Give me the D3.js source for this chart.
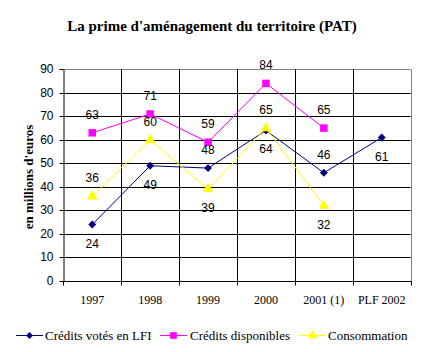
<!DOCTYPE html>
<html><head><meta charset="utf-8">
<script src="https://cdn.jsdelivr.net/npm/d3@7"></script>
<style>
body{margin:0;background:#fff}svg{display:block}
.serif{font-family:"Liberation Serif","Times New Roman","DejaVu Serif",serif}
.sans{font-family:"Liberation Sans",Arial,"DejaVu Sans",sans-serif}
</style>
</head><body>
<script>
const categories = ["1997","1998","1999","2000","2001 (1)","PLF 2002"];
const lfi = [24,49,48,64,46,61];
const disponibles = [63,71,59,84,65,null];
const consommation = [36,60,39,65,32,null];
const yTicks = [0,10,20,30,40,50,60,70,80,90];
// label placement: 1 = above, -1 = below
const lfiPos = [-1,-1,1,-1,1,-1];
const dispPos = [1,1,1,1,1,1];
const consPos = [1,1,-1,1,-1,1];

const W=425,H=352;
const svg=d3.select("body").append("svg").attr("width",W).attr("height",H);
const m={l:63.3,r:410.7,t:69.3,b:281};
const x=d3.scaleBand().domain(categories).range([m.l,m.r]).padding(0);
const y=d3.scaleLinear().domain([0,90]).range([m.b,m.t]);

svg.append("text").attr("class","serif").attr("x",212).attr("y",31).attr("text-anchor","middle")
 .attr("font-weight","bold").attr("font-size",15)
 .text("La prime d'aménagement du territoire (PAT)");

svg.append("g").selectAll("line").data(yTicks.filter(d=>d>0)).join("line")
 .attr("x1",m.l).attr("x2",m.r).attr("y1",d=>Math.round(y(d))+0.5).attr("y2",d=>Math.round(y(d))+0.5)
 .attr("stroke",d=>d===90?"#808080":"#000").attr("stroke-width",1);
const bounds=categories.slice(1).map(c=>x(c));
svg.append("g").selectAll("line").data(bounds).join("line")
 .attr("x1",d=>Math.round(d)+0.5).attr("x2",d=>Math.round(d)+0.5).attr("y1",m.t).attr("y2",m.b)
 .attr("stroke","#000");
svg.append("line").attr("x1",Math.round(m.r)+0.5).attr("x2",Math.round(m.r)+0.5).attr("y1",Math.round(m.t)+0.5).attr("y2",m.b).attr("stroke","#808080");

const yAxis=d3.axisLeft(y).tickValues(yTicks).tickSize(4).tickSizeOuter(0);
const gy=svg.append("g").attr("transform",`translate(${Math.round(m.l)+0.5},0)`).call(yAxis);
gy.selectAll("text").attr("class","sans").attr("font-family",null).attr("font-size",12).attr("fill","#000").attr("dx",-3);
gy.selectAll("line,path").attr("stroke","#000");
gy.selectAll(".tick").attr("transform",d=>`translate(0,${Math.round(y(d))+0.5})`);
gy.attr("font-family",null);

const gx=svg.append("g").attr("transform",`translate(0,${Math.round(m.b)+0.5})`);
gx.append("line").attr("x1",m.l).attr("x2",m.r+1).attr("stroke","#000");
gx.selectAll("line.t").data([m.l].concat(bounds).concat([m.r])).join("line").attr("class","t")
 .attr("x1",d=>Math.round(d)+0.5).attr("x2",d=>Math.round(d)+0.5).attr("y1",0).attr("y2",4).attr("stroke","#000");
gx.selectAll("text").data(categories).join("text").attr("class","serif")
 .attr("x",d=>x(d)+x.bandwidth()/2).attr("y",22).attr("text-anchor","middle")
 .attr("font-size",12).text(d=>d);

svg.append("text").attr("class","serif").attr("transform","translate(33,177) rotate(-90)").attr("text-anchor","middle")
 .attr("font-weight","bold").attr("font-size",13)
 .text("en millions d'euros");

const diamond={draw(ctx,size){const r=Math.sqrt(size)/1.6;ctx.moveTo(0,-r);ctx.lineTo(r,0);ctx.lineTo(0,r);ctx.lineTo(-r,0);ctx.closePath();}};
const cx=(i)=>x(categories[i])+x.bandwidth()/2;
const series=[
 {name:"Crédits votés en LFI",vals:lfi,pos:lfiPos,color:"#000080",sym:diamond,size:40},
 {name:"Crédits disponibles",vals:disponibles,pos:dispPos,color:"#FF00FF",sym:d3.symbolSquare,size:56},
 {name:"Consommation",vals:consommation,pos:consPos,color:"#FFFF00",sym:d3.symbolTriangle,size:50}
];
const line=d3.line().defined(d=>d.v!=null).x(d=>cx(d.i)).y(d=>y(d.v));
series.forEach(s=>{
 const pts=s.vals.map((v,i)=>({v,i}));
 svg.append("path").attr("d",line(pts)).attr("fill","none").attr("stroke",s.color).attr("stroke-width",1);
 svg.append("g").selectAll("path").data(pts.filter(d=>d.v!=null)).join("path")
  .attr("transform",d=>`translate(${cx(d.i)},${y(d.v)})`).attr("d",d3.symbol(s.sym,s.size)).attr("fill",s.color);
});
series.forEach(s=>{
 const pts=s.vals.map((v,i)=>({v,i,p:s.pos[i]})).filter(d=>d.v!=null);
 svg.append("g").selectAll("text").data(pts).join("text").attr("class","sans")
  .attr("x",d=>cx(d.i)).attr("y",d=>y(d.v)+(d.p>0?-14:23)).attr("text-anchor","middle")
  .attr("font-size",12).text(d=>d.v);
});

const lg=[{x:16,tx:45},{x:160,tx:190},{x:299,tx:328}];
series.forEach((s,k)=>{
 const g=svg.append("g").attr("transform",`translate(${lg[k].x},335)`);
 g.append("line").attr("x1",0).attr("x2",27).attr("y1",0.5).attr("y2",0.5).attr("stroke",s.color);
 g.append("path").attr("transform","translate(13.5,0.5)").attr("d",d3.symbol(s.sym,s.size*0.8)).attr("fill",s.color);
 svg.append("text").attr("class","serif").attr("x",lg[k].tx).attr("y",339.5)
  .attr("font-size",13).text(s.name);
});
</script>
</body></html>
